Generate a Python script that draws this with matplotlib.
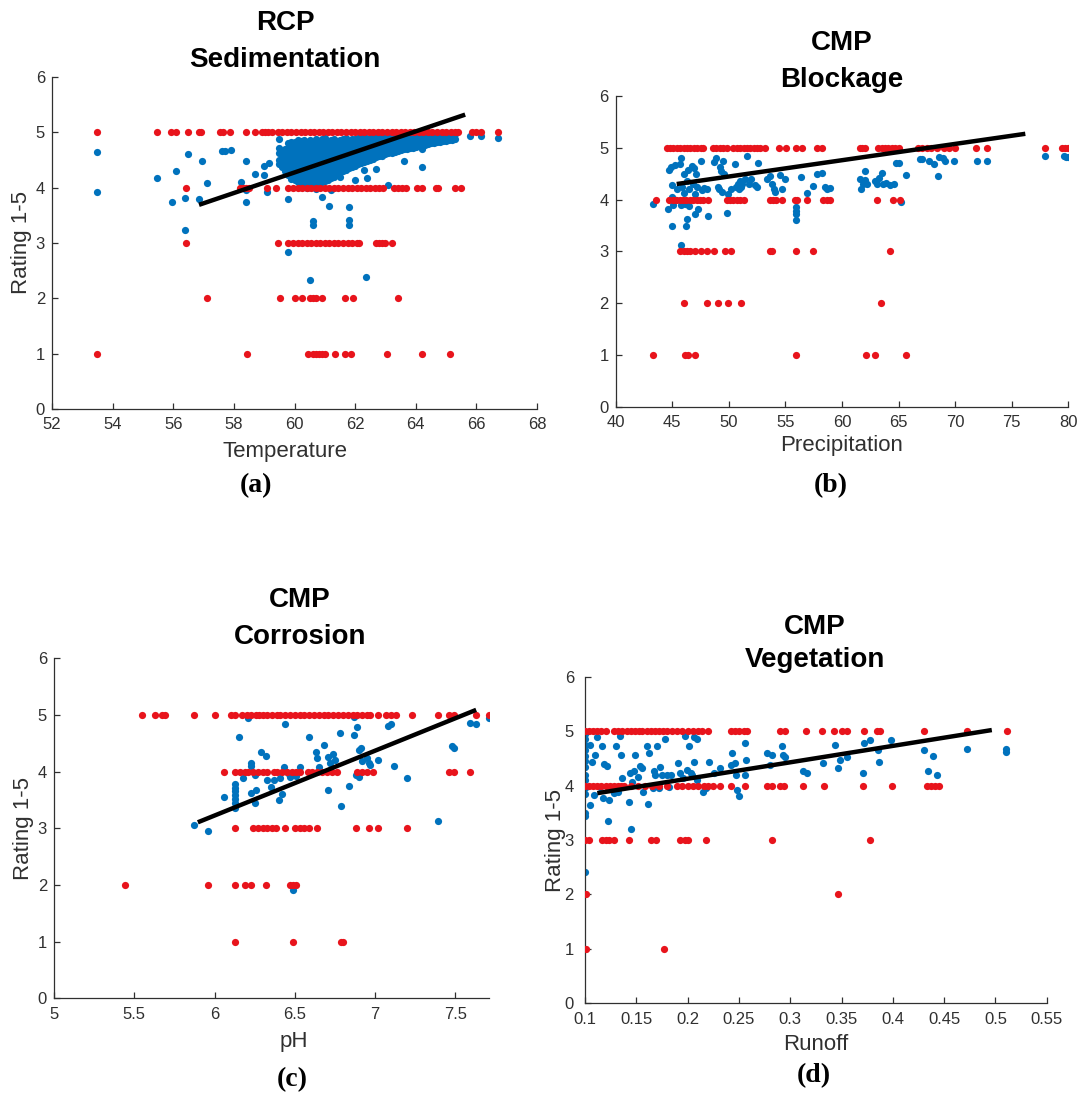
import matplotlib
matplotlib.use('Agg')
import matplotlib.pyplot as plt

BLUE = '#0072BD'
RED = '#E8141C'
INK = '#303030'

# ---------------- Panel (a): RCP Sedimentation vs Temperature ----------------
a_red5 = [53.5, 55.47, 55.93, 56.1, 56.5, 56.84, 56.92, 57.53, 57.65, 57.88, 58.41, 58.7,
          58.92, 59.02, 59.12, 59.26, 59.45, 59.6, 59.75, 59.9, 60.05, 60.2, 60.35, 60.5,
          60.65, 60.8, 60.95, 61.1, 61.25, 61.4, 61.55, 61.7, 61.85, 62.0, 62.15, 62.3,
          62.45, 62.6, 62.75, 62.9, 63.05, 63.2, 63.35, 63.5, 63.65, 63.8, 63.95, 64.1,
          64.25, 64.4, 64.55, 64.7, 64.85, 65.0, 65.15, 65.3, 65.38, 65.84, 66.0, 66.15, 66.7]
a_red4 = [56.43, 58.2, 58.3, 58.4, 58.5, 59.1, 59.4, 59.8, 59.95, 60.1, 60.25, 60.4, 60.55,
          60.7, 60.85, 61.0, 61.15, 61.3, 61.45, 61.6, 61.75, 61.9, 62.05, 62.2, 62.35,
          62.5, 62.65, 62.8, 62.93, 63.27, 63.4, 63.56, 63.67, 64.05, 64.2, 64.66, 64.75,
          65.3, 65.5]
a_red3 = [56.43, 59.47, 59.8, 59.95, 60.1, 60.25, 60.4, 60.55, 60.7, 60.85, 61.0, 61.15,
          61.3, 61.45, 61.6, 61.75, 61.9, 62.05, 62.13, 62.7, 62.8, 62.9, 63.0, 63.2]
a_red2 = [57.1, 59.52, 60.0, 60.26, 60.5, 60.6, 60.7, 60.9, 61.67, 61.94, 63.42]
a_red1 = [53.5, 58.42, 60.45, 60.6, 60.7, 60.8, 60.9, 61.0, 61.33, 61.65, 61.86, 63.06,
          64.22, 65.13]
a_blue_x = [53.5, 53.5, 55.45, 55.95, 56.1, 56.4, 56.4, 56.5, 56.85, 56.95, 57.1, 57.6,
            57.7, 57.9, 58.25, 58.4, 58.4, 58.4, 58.7, 59.0, 59.0, 59.1, 59.15, 59.5, 59.5,
            59.8, 59.8, 60.5, 60.6, 60.6, 60.9, 61.15, 61.5, 61.8, 61.8, 61.8, 62.0, 62.35,
            62.3, 62.4, 62.7, 63.1, 63.6, 64.2, 64.2, 65.8, 66.15, 66.7, 60.4, 60.7, 61.2]
a_blue_y = [4.65, 3.92, 4.18, 3.75, 4.31, 3.82, 3.23, 4.6, 3.8, 4.48, 4.08, 4.67,
            4.67, 4.68, 4.1, 4.48, 3.75, 3.95, 4.24, 4.4, 4.22, 3.92, 4.45, 4.88, 4.72,
            3.8, 2.84, 2.33, 3.4, 3.33, 3.83, 3.67, 4.2, 3.65, 3.42, 3.32, 4.13, 2.39,
            4.32, 4.18, 4.33, 4.04, 4.48, 4.38, 4.7, 4.93, 4.93, 4.9, 4.0, 3.97, 3.95]
# dense cluster, read column by column (x position, y values in that column)
a_cluster_x = [59.5, 59.7, 59.9, 60.1, 60.3, 60.5, 60.7, 60.9, 61.1, 61.3, 61.5, 61.7,
               61.9, 62.1, 62.3, 62.5, 62.7, 62.9, 63.1, 63.3, 63.5, 63.7, 63.9, 64.1,
               64.3, 64.5, 64.7, 64.9, 65.1, 65.3]
a_cluster_y = [
    [4.42, 4.5, 4.62],
    [4.3, 4.4, 4.5, 4.6, 4.7],
    [4.15, 4.25, 4.35, 4.45, 4.55, 4.65, 4.75, 4.82],
    [4.1, 4.2, 4.3, 4.4, 4.5, 4.6, 4.7, 4.8, 4.87],
    [4.08, 4.18, 4.28, 4.38, 4.48, 4.58, 4.68, 4.78, 4.86],
    [4.06, 4.16, 4.26, 4.36, 4.46, 4.56, 4.66, 4.76, 4.86],
    [4.08, 4.18, 4.28, 4.38, 4.48, 4.58, 4.68, 4.78, 4.88],
    [4.1, 4.2, 4.3, 4.4, 4.5, 4.6, 4.7, 4.8, 4.88],
    [4.14, 4.24, 4.34, 4.44, 4.54, 4.64, 4.74, 4.84],
    [4.2, 4.3, 4.4, 4.5, 4.6, 4.7, 4.8, 4.88],
    [4.28, 4.38, 4.48, 4.58, 4.68, 4.78, 4.86],
    [4.32, 4.42, 4.52, 4.62, 4.72, 4.82, 4.9],
    [4.38, 4.48, 4.58, 4.68, 4.78, 4.88],
    [4.42, 4.52, 4.62, 4.72, 4.82, 4.9],
    [4.46, 4.56, 4.66, 4.76, 4.86, 4.93],
    [4.5, 4.6, 4.7, 4.8, 4.9],
    [4.55, 4.65, 4.75, 4.85, 4.93],
    [4.58, 4.68, 4.78, 4.88, 4.95],
    [4.62, 4.72, 4.82, 4.92],
    [4.64, 4.74, 4.84, 4.94],
    [4.68, 4.78, 4.88, 4.96],
    [4.7, 4.8, 4.9],
    [4.72, 4.82, 4.92],
    [4.75, 4.85, 4.95],
    [4.78, 4.88, 4.96],
    [4.8, 4.9],
    [4.82, 4.92],
    [4.84, 4.94],
    [4.86, 4.95],
    [4.88, 4.97],
]
a_cluster2_x = [59.6, 59.8, 60.0, 60.2, 60.4, 60.6, 60.8, 61.0, 61.2, 61.4, 61.6, 61.8,
                62.0, 62.2, 62.4, 62.6, 62.8, 63.0, 63.2, 63.4, 63.6, 63.8, 64.0, 64.2,
                64.4, 64.6, 64.8, 65.0, 65.2]
a_cluster2_y = [
    [4.37, 4.47, 4.57, 4.67],
    [4.22, 4.32, 4.42, 4.52, 4.62, 4.72, 4.8],
    [4.13, 4.23, 4.33, 4.43, 4.53, 4.63, 4.73, 4.83],
    [4.05, 4.15, 4.25, 4.35, 4.45, 4.55, 4.65, 4.75, 4.84],
    [4.03, 4.13, 4.23, 4.33, 4.43, 4.53, 4.63, 4.73, 4.83],
    [4.05, 4.13, 4.23, 4.33, 4.43, 4.53, 4.63, 4.73, 4.83],
    [4.05, 4.15, 4.25, 4.35, 4.45, 4.55, 4.65, 4.75, 4.85],
    [4.12, 4.22, 4.32, 4.42, 4.52, 4.62, 4.72, 4.82, 4.9],
    [4.17, 4.27, 4.37, 4.47, 4.57, 4.67, 4.77, 4.86],
    [4.24, 4.34, 4.44, 4.54, 4.64, 4.74, 4.84],
    [4.3, 4.4, 4.5, 4.6, 4.7, 4.8, 4.88],
    [4.35, 4.45, 4.55, 4.65, 4.75, 4.85],
    [4.4, 4.5, 4.6, 4.7, 4.8, 4.88],
    [4.44, 4.54, 4.64, 4.74, 4.84, 4.92],
    [4.48, 4.58, 4.68, 4.78, 4.88],
    [4.52, 4.62, 4.72, 4.82, 4.92],
    [4.57, 4.67, 4.77, 4.87],
    [4.6, 4.7, 4.8, 4.9],
    [4.63, 4.73, 4.83, 4.93],
    [4.66, 4.76, 4.86, 4.95],
    [4.69, 4.79, 4.89],
    [4.71, 4.81, 4.91],
    [4.74, 4.84, 4.94],
    [4.77, 4.87, 4.95],
    [4.79, 4.89],
    [4.81, 4.91],
    [4.83, 4.93],
    [4.85, 4.95],
    [4.87, 4.96],
]
a_fit_x = [56.85, 65.63]
a_fit_y = [3.69, 5.32]

# ---------------- Panel (b): CMP Blockage vs Precipitation ----------------
b_red5 = [44.5, 44.8, 45.1, 45.4, 45.7, 46.0, 46.3, 46.6, 46.9, 47.2, 47.5, 47.75,
          48.6, 48.9, 49.2, 49.5, 49.8, 50.4, 50.7, 51.0, 51.3, 51.6, 51.9, 52.2, 52.5,
          52.75, 53.2, 54.4, 55.05, 55.9, 56.5, 57.75, 58.25, 61.6, 61.8, 62.0, 63.2,
          63.5, 63.8, 64.1, 64.4, 64.7, 65.0, 66.75, 67.1, 67.5, 67.9, 68.4, 69.0, 69.5,
          70.0, 71.85, 72.8, 77.9, 79.4, 79.7, 80.0]
b_red4 = [43.6, 44.75, 45.05, 45.35, 45.65, 45.95, 46.25, 46.55, 46.85, 47.15, 47.45,
          47.75, 48.2, 49.8, 50.1, 50.4, 50.7, 51.0, 51.3, 53.6, 53.9, 54.2, 54.7, 55.85,
          56.05, 56.9, 58.35, 58.65, 58.95, 63.05, 64.5, 65.1]
b_red3 = [45.7, 46.0, 46.3, 46.6, 47.05, 47.5, 48.05, 48.7, 49.7, 50.15, 53.6, 53.8,
          55.95, 57.4, 64.2]
b_red2 = [46.0, 48.1, 49.0, 49.9, 51.1, 63.45]
b_red1 = [43.3, 46.1, 46.4, 47.05, 55.9, 62.1, 62.9, 65.7]
b_blue_x = [43.3, 44.6, 44.7, 44.9, 45.0, 45.0, 45.0, 45.1, 45.2, 45.3, 45.4, 45.7, 45.8,
            45.8, 45.8, 45.9, 46.0, 46.0, 46.1, 46.2, 46.3, 46.3, 46.4, 46.5, 46.5, 46.7,
            46.8, 46.9, 47.0, 47.0, 47.1, 47.2, 47.3, 47.5, 47.6, 47.8, 48.1, 48.2, 48.7,
            48.9, 49.0, 49.1, 49.2, 49.3, 49.4, 49.5, 49.6, 49.8, 49.9, 50.2, 50.5, 50.6,
            50.8, 50.9, 51.0, 51.1, 51.2, 51.4, 51.6, 51.8, 52.0, 52.3, 52.5, 52.6, 53.4,
            53.6, 53.8, 54.0, 54.1, 54.5, 54.7, 55.0, 55.9, 55.9, 55.9, 55.9, 56.4, 56.9,
            57.4, 57.8, 58.2, 58.5, 58.7, 58.9, 61.6, 61.7, 61.9, 62.0, 62.0, 62.2, 62.9,
            63.1, 63.3, 63.5, 63.6, 63.9, 64.2, 64.6, 64.8, 65.0, 65.2, 65.7, 66.9, 67.1,
            67.7, 68.1, 68.5, 68.6, 68.9, 69.1, 69.9, 71.9, 72.8, 77.9, 79.6, 79.8, 80.0]
b_blue_y = [3.92, 3.82, 4.58, 4.62, 4.28, 4.05, 3.48, 3.9, 4.66, 4.0, 4.2, 4.68, 4.8,
            3.12, 3.9, 4.25, 4.5, 4.12, 3.92, 3.48, 3.62, 4.35, 4.58, 4.2, 3.88, 4.65,
            4.3, 4.6, 3.72, 4.1, 4.5, 4.25, 3.82, 4.75, 4.18, 4.22, 4.2, 3.68, 4.72,
            4.8, 4.25, 4.2, 4.62, 4.55, 4.15, 4.75, 4.5, 3.75, 4.1, 4.2, 4.68, 4.25,
            4.3, 4.2, 4.35, 4.25, 4.3, 4.4, 4.85, 4.3, 4.4, 4.28, 4.25, 4.7, 4.4,
            4.45, 4.3, 4.2, 4.15, 4.48, 4.2, 4.4, 3.85, 3.78, 3.72, 3.6, 4.43, 4.12,
            4.27, 4.5, 4.52, 4.25, 4.2, 4.22, 4.4, 4.2, 4.3, 4.55, 4.38, 4.3, 4.35,
            4.3, 4.42, 4.52, 4.3, 4.32, 4.28, 4.3, 4.7, 4.7, 3.95, 4.48, 4.78, 4.78,
            4.74, 4.68, 4.45, 4.82, 4.8, 4.75, 4.75, 4.75, 4.75, 4.84, 4.84, 4.83, 4.83]
b_fit_x = [45.39, 76.2]
b_fit_y = [4.30, 5.27]

# ---------------- Panel (c): CMP Corrosion vs pH ----------------
c_red5 = [5.55, 5.63, 5.67, 5.69, 5.87, 6.0, 6.1, 6.13, 6.17, 6.2, 6.23, 6.26, 6.28,
          6.3, 6.33, 6.36, 6.39, 6.41, 6.44, 6.47, 6.5, 6.53, 6.56, 6.59, 6.62, 6.65,
          6.68, 6.71, 6.74, 6.77, 6.8, 6.83, 6.86, 6.89, 6.92, 6.95, 6.97, 7.02, 7.07,
          7.1, 7.13, 7.23, 7.39, 7.46, 7.49, 7.63, 7.71]
c_red4 = [6.06, 6.13, 6.16, 6.19, 6.21, 6.24, 6.27, 6.3, 6.33, 6.37, 6.39, 6.42, 6.45,
          6.48, 6.51, 6.53, 6.58, 6.61, 6.64, 6.67, 6.7, 6.73, 6.76, 6.89, 6.92, 6.95,
          6.99, 7.46, 7.49, 7.59]
c_red3 = [6.13, 6.24, 6.27, 6.3, 6.33, 6.36, 6.38, 6.44, 6.5, 6.53, 6.56, 6.59, 6.64,
          6.88, 6.96, 7.02, 7.2]
c_red2 = [5.44, 5.96, 6.13, 6.19, 6.23, 6.32, 6.47, 6.49, 6.51]
c_red1 = [6.13, 6.49, 6.79, 6.8]
c_blue_x = [5.87, 5.96, 6.06, 6.13, 6.13, 6.13, 6.13, 6.13, 6.13, 6.13, 6.15, 6.18, 6.21,
            6.23, 6.23, 6.23, 6.25, 6.25, 6.26, 6.29, 6.32, 6.33, 6.35, 6.37, 6.4, 6.42,
            6.41, 6.43, 6.44, 6.46, 6.47, 6.49, 6.49, 6.51, 6.53, 6.59, 6.63, 6.64, 6.65,
            6.68, 6.71, 6.71, 6.72, 6.74, 6.75, 6.78, 6.79, 6.84, 6.87, 6.87, 6.88, 6.89,
            6.9, 6.9, 6.91, 6.92, 6.95, 6.96, 6.97, 7.02, 7.08, 7.1, 7.12, 7.2, 7.39, 7.48,
            7.49, 7.59, 7.63, 7.71]
c_blue_y = [3.05, 2.96, 3.56, 3.78, 3.72, 3.65, 3.58, 3.52, 3.45, 3.35, 4.61, 3.88, 4.95,
            4.16, 4.1, 3.62, 3.94, 3.45, 3.68, 4.35, 4.27, 3.85, 3.73, 3.85, 3.5, 3.6,
            3.88, 4.08, 4.84, 3.97, 3.9, 3.94, 1.91, 3.92, 4.08, 4.62, 4.35, 4.24, 4.09,
            4.47, 4.26, 3.68, 4.15, 4.32, 4.2, 4.69, 3.4, 3.75, 4.65, 4.96, 3.94, 4.78,
            4.38, 3.91, 4.41, 4.18, 4.24, 4.15, 4.12, 4.21, 4.8, 4.84, 4.1, 3.88, 3.13, 4.45,
            4.42, 4.86, 4.84, 4.95]
c_fit_x = [5.896, 7.63]
c_fit_y = [3.106, 5.09]

# ---------------- Panel (d): CMP Vegetation vs Runoff ----------------
d_red5 = [0.1, 0.104, 0.108, 0.112, 0.116, 0.12, 0.128, 0.132, 0.136, 0.141, 0.145,
          0.149, 0.153, 0.156, 0.16, 0.164, 0.168, 0.172, 0.176, 0.18, 0.185, 0.19,
          0.195, 0.2, 0.205, 0.21, 0.214, 0.22, 0.242, 0.246, 0.25, 0.255, 0.258, 0.29,
          0.295, 0.315, 0.331, 0.343, 0.35, 0.355, 0.372, 0.385, 0.388, 0.43, 0.472, 0.511]
d_red4 = [0.1, 0.104, 0.108, 0.112, 0.116, 0.12, 0.124, 0.128, 0.132, 0.135, 0.138,
          0.145, 0.152, 0.158, 0.165, 0.172, 0.18, 0.19, 0.195, 0.2, 0.205, 0.21, 0.216,
          0.22, 0.225, 0.232, 0.242, 0.256, 0.277, 0.282, 0.29, 0.294, 0.312, 0.333,
          0.371, 0.399, 0.433, 0.437, 0.441, 0.445]
d_red3 = [0.1, 0.104, 0.117, 0.12, 0.123, 0.128, 0.143, 0.164, 0.169, 0.193, 0.197, 0.2,
          0.218, 0.282, 0.378]
d_red2 = [0.101, 0.347]
d_red1 = [0.101, 0.177]
d_blue_x = [0.1, 0.1, 0.1, 0.1, 0.1, 0.1, 0.1, 0.1, 0.1, 0.1, 0.1, 0.1, 0.1, 0.1,
            0.105, 0.105, 0.107, 0.109, 0.11, 0.112, 0.115, 0.117, 0.118, 0.119, 0.121,
            0.122, 0.123, 0.128, 0.13, 0.132, 0.134, 0.135, 0.136, 0.143, 0.144, 0.145,
            0.146, 0.148, 0.149, 0.152, 0.154, 0.156, 0.157, 0.16, 0.161, 0.162, 0.166,
            0.167, 0.168, 0.17, 0.172, 0.173, 0.175, 0.178, 0.18, 0.182, 0.184, 0.191,
            0.193, 0.196, 0.197, 0.199, 0.201, 0.203, 0.204, 0.206, 0.206, 0.209, 0.209,
            0.215, 0.218, 0.221, 0.226, 0.232, 0.242, 0.243, 0.246, 0.247, 0.248, 0.25,
            0.256, 0.257, 0.256, 0.277, 0.282, 0.28, 0.292, 0.293, 0.295, 0.312, 0.316,
            0.332, 0.344, 0.347, 0.349, 0.355, 0.371, 0.372, 0.378, 0.386, 0.387, 0.398,
            0.43, 0.434, 0.439, 0.443, 0.472, 0.51, 0.51]
d_blue_y = [2.42, 3.45, 3.5, 3.85, 3.95, 4.1, 4.2, 4.35, 4.45, 4.55, 4.65, 4.75, 4.85, 4.95,
            3.64, 4.75, 4.44, 3.83, 4.56, 4.9, 3.98, 4.73, 3.77, 4.4, 4.36,
            3.35, 3.73, 3.86, 4.72, 3.89, 4.91, 4.56, 4.13, 3.7, 4.24, 3.21,
            4.07, 4.27, 4.56, 4.16, 4.36, 4.32, 3.89, 4.73, 3.67, 4.59, 3.95,
            4.26, 4.2, 4.72, 3.95, 4.35, 4.2, 4.85, 4.2, 3.98, 4.2, 4.41,
            4.23, 4.13, 4.91, 4.29, 4.72, 4.23, 4.2, 4.9, 4.44, 4.85, 4.1,
            3.89, 3.95, 4.44, 4.23, 4.32, 4.38, 4.59, 4.41, 4.2, 3.92, 3.8,
            4.78, 4.47, 4.2, 4.59, 4.56, 4.38, 4.73, 4.56, 4.53, 4.26, 4.23,
            4.41, 4.75, 4.32, 4.47, 4.53, 4.23, 4.78, 4.83, 4.65, 4.44, 4.84,
            4.65, 4.27, 4.54, 4.2, 4.68, 4.68, 4.62]
d_fit_x = [0.112, 0.4965]
d_fit_y = [3.86, 5.02]

W, H = 1082, 1095
fig = plt.figure(figsize=(W / 100, H / 100), dpi=100)
fig.patch.set_facecolor('white')

SANS = 'Liberation Sans'
SERIF = 'Liberation Serif'
MS = 27


def box(l, r, t, b):
    return [l / W, 1 - b / H, (r - l) / W, (b - t) / H]


def style(ax, xlim, xticks, xlabels):
    ax.set_xlim(*xlim)
    ax.set_ylim(0, 6)
    ax.set_xticks(xticks)
    ax.set_xticklabels(xlabels)
    ax.set_yticks(range(0, 7))
    for s in ('top', 'right'):
        ax.spines[s].set_visible(False)
    for s in ('left', 'bottom'):
        ax.spines[s].set_color(INK)
        ax.spines[s].set_linewidth(0.9)
    ax.tick_params(direction='in', length=4, width=0.9, colors=INK, labelsize=12)
    ax.tick_params(axis='x', pad=6)
    ax.tick_params(axis='y', pad=5)
    for lab in ax.get_xticklabels() + ax.get_yticklabels():
        lab.set_fontfamily(SANS)


def draw(ax, bx, by, reds, fx, fy):
    ax.scatter(bx, by, s=MS, color=BLUE, linewidths=0, zorder=2)
    for level, xs in reds:
        ax.scatter(xs, [level] * len(xs), s=MS, color=RED, linewidths=0, zorder=3)
    ax.plot(fx, fy, color='black', linewidth=3.2, solid_capstyle='butt', zorder=4)


def cluster(ax, cx, cy):
    ax.scatter([x for x, ys in zip(cx, cy) for _ in ys],
               [y for ys in cy for y in ys], s=MS, color=BLUE, linewidths=0, zorder=2)


def ftext(px, py, s, **kw):
    fig.text(px / W, 1 - py / H, s, ha='center', va='center', **kw)


# Panel (a)
ax_a = fig.add_axes(box(52, 537, 77, 409))
cluster(ax_a, a_cluster_x, a_cluster_y)
cluster(ax_a, a_cluster2_x, a_cluster2_y)
draw(ax_a, a_blue_x, a_blue_y,
     [(5, a_red5), (4, a_red4), (3, a_red3), (2, a_red2), (1, a_red1)], a_fit_x, a_fit_y)
style(ax_a, (52, 68), list(range(52, 69, 2)), [str(v) for v in range(52, 69, 2)])

# Panel (b)
ax_b = fig.add_axes(box(615.7, 1068.3, 96, 406.7))
draw(ax_b, b_blue_x, b_blue_y,
     [(5, b_red5), (4, b_red4), (3, b_red3), (2, b_red2), (1, b_red1)], b_fit_x, b_fit_y)
style(ax_b, (40, 80), list(range(40, 81, 5)), [str(v) for v in range(40, 81, 5)])

# Panel (c)
ax_c = fig.add_axes(box(54, 489, 658.3, 998.3))
draw(ax_c, c_blue_x, c_blue_y,
     [(5, c_red5), (4, c_red4), (3, c_red3), (2, c_red2), (1, c_red1)], c_fit_x, c_fit_y)
style(ax_c, (5, 7.71), [5, 5.5, 6, 6.5, 7, 7.5], ['5', '5.5', '6', '6.5', '7', '7.5'])

# Panel (d)
ax_d = fig.add_axes(box(585, 1046.7, 676.7, 1003.3))
draw(ax_d, d_blue_x, d_blue_y,
     [(5, d_red5), (4, d_red4), (3, d_red3), (2, d_red2), (1, d_red1)], d_fit_x, d_fit_y)
dticks = [0.1, 0.15, 0.2, 0.25, 0.3, 0.35, 0.4, 0.45, 0.5, 0.55]
style(ax_d, (0.1, 0.55), dticks, ['0.1', '0.15', '0.2', '0.25', '0.3', '0.35', '0.4',
                                   '0.45', '0.5', '0.55'])
ax_d.tick_params(axis='y', pad=8)

# Titles
TKW = dict(fontsize=20, fontweight='bold', family=SANS, color='black')
ftext(285, 23, 'RCP', **TKW)
ftext(285, 60, 'Sedimentation', **TKW)
ftext(842, 43, 'CMP', **TKW)
ftext(842, 80, 'Blockage', **TKW)
ftext(300, 600, 'CMP', **TKW)
ftext(300, 637, 'Corrosion', **TKW)
ftext(815, 627, 'CMP', **TKW)
ftext(815, 660, 'Vegetation', **TKW)

# Axis labels
LKW = dict(fontsize=16, family=SANS, color=INK)
ftext(285, 451, 'Temperature', **LKW)
ftext(842, 446, 'Precipitation', **LKW)
ftext(294, 1042, 'pH', **LKW)
ftext(816, 1045, 'Runoff', **LKW)
ftext(22, 243, 'Rating 1-5', rotation=90, **LKW)
ftext(23, 828, 'Rating 1-5', rotation=90, **LKW)
ftext(555, 840, 'Rating 1-5', rotation=90, **LKW)

# Panel letters
PKW = dict(fontsize=20, fontweight='bold', family=SERIF, color='black')
ftext(256, 486, '(a)', **PKW)
ftext(831, 486, '(b)', **PKW)
ftext(292, 1080, '(c)', **PKW)
ftext(814, 1076, '(d)', **PKW)

fig.savefig('out.png', dpi=100, facecolor='white')
